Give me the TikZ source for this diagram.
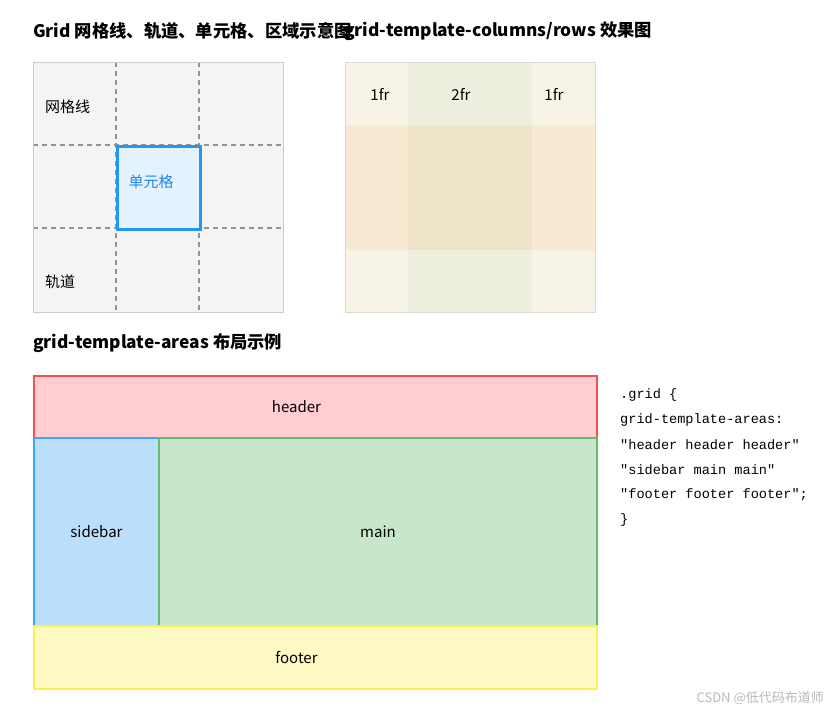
\documentclass[tikz,border=0pt]{standalone}
\usepackage{fontspec}
\setmainfont{Noto Sans CJK SC}
\newfontfamily\codefont{Liberation Mono}
\usetikzlibrary{positioning}
\definecolor{gridbg}{HTML}{F4F4F4}
\definecolor{gridedge}{HTML}{CCCCCC}
\definecolor{celledge}{HTML}{2196F3}
\definecolor{cellfill}{HTML}{E3F2FD}
\definecolor{celltext}{HTML}{1E88E5}
\definecolor{trkA}{HTML}{F7F3E6}
\definecolor{trkB}{HTML}{EFEFE0}
\definecolor{trkC}{HTML}{F7E9D2}
\definecolor{trkD}{HTML}{EEE5C8}
\definecolor{hdrfill}{HTML}{FFCDD2}
\definecolor{hdredge}{HTML}{EF5350}
\definecolor{sidefill}{HTML}{BBDEFB}
\definecolor{sideedge}{HTML}{42A5F5}
\definecolor{mainfill}{HTML}{C8E6C9}
\definecolor{mainedge}{HTML}{66BB6A}
\definecolor{footfill}{HTML}{FFF9C4}
\definecolor{footedge}{HTML}{FFEE58}

\begin{document}
\begin{tikzpicture}[x=1pt,y=-1pt,
  title/.style={anchor=west,inner sep=0pt,font=\fontsize{17.3}{19}\selectfont\bfseries},
  label/.style={inner sep=0pt,font=\fontsize{15}{17}\selectfont},
  area/.style={draw=#1edge,fill=#1fill,line width=2pt,anchor=north west,inner sep=0pt},
  codeline/.style={anchor=west,inner sep=0pt,font=\codefont\fontsize{13.6}{16}\selectfont}]
\useasboundingbox (0,0) rectangle (836,715);
% titles
\node[title] (t1) at (33,31) {Grid 网格线、轨道、单元格、区域示意图};
\node[title] (t2) at (344,31) {grid-template-columns/rows 效果图};
\node[title] (t3) at (33,343) {grid-template-areas 布局示例};

% grid lines, tracks, cells
\fill[gridbg] (33,62) rectangle (283,312);
\foreach \p in {116,199} {
  \draw[gray!85,line width=1.4pt,dash pattern=on 5pt off 4pt] (\p,62) -- (\p,312);
  \draw[gray!85,line width=1.4pt,dash pattern=on 5pt off 4pt] (33,\p+29) -- (283,\p+29);
}
\draw[gridedge,line width=1pt] (33,62) rectangle (283,312);
\node[draw=celledge,fill=cellfill,line width=2.5pt,minimum width=83pt,minimum height=83pt,anchor=north west] (cell) at (116,145) {};
\node[label,text=celltext] (celltxt) at (151,182) {单元格};
\node[label,anchor=west] (line) at (45,107) {网格线};
\node[label,anchor=west] (track) at (45,282) {轨道};

% columns / rows
\fill[trkA] (345,62) rectangle (408,125);
\fill[trkB] (408,62) rectangle (532,125);
\fill[trkA] (532,62) rectangle (595,125);
\fill[trkC] (345,125) rectangle (408,250);
\fill[trkD] (408,125) rectangle (532,250);
\fill[trkC] (532,125) rectangle (595,250);
\fill[trkA] (345,250) rectangle (408,312);
\fill[trkB] (408,250) rectangle (532,312);
\fill[trkA] (532,250) rectangle (595,312);
\draw[gray!30,line width=1pt] (345,62) rectangle (595,312);
\node[label] (fr1) at (380,94) {1fr};
\node[label] (fr2) at (461,94) {2fr};
\node[label] (fr3) at (554,94) {1fr};

% areas
\node[area=hdr,minimum width=563pt,minimum height=62pt] (header) at (33,375) {};
\node[area=side,minimum width=125pt,minimum height=188pt] (sidebar) at (33,437) {};
\node[area=main,minimum width=438pt,minimum height=188pt] (main) at (158,437) {};
\node[area=foot,minimum width=563pt,minimum height=63pt] (footer) at (33,625) {};
\node[label] (hdrtxt) at ([xshift=-19pt]header.center) {header};
\node[label] (sidetxt) at (sidebar.center) {sidebar};
\node[label] (maintxt) at (main.center) {main};
\node[label] (foottxt) at ([xshift=-19pt]footer.center) {footer};

% code
\node[codeline] (c1) at (620,395) {.grid \{};
\node[codeline] (c2) at (620,420) {grid-template-areas:};
\node[codeline] (c3) at (620,445) {"header header header"};
\node[codeline] (c4) at (620,470) {"sidebar main main"};
\node[codeline] (c5) at (620,495) {"footer footer footer";};
\node[codeline] (c6) at (620,520) {\}};

\node[anchor=east,inner sep=0pt,text=gray!55,font=\fontsize{13}{15}\selectfont] (mark) at (824,698) {CSDN @低代码布道师};
\end{tikzpicture}
\end{document}
